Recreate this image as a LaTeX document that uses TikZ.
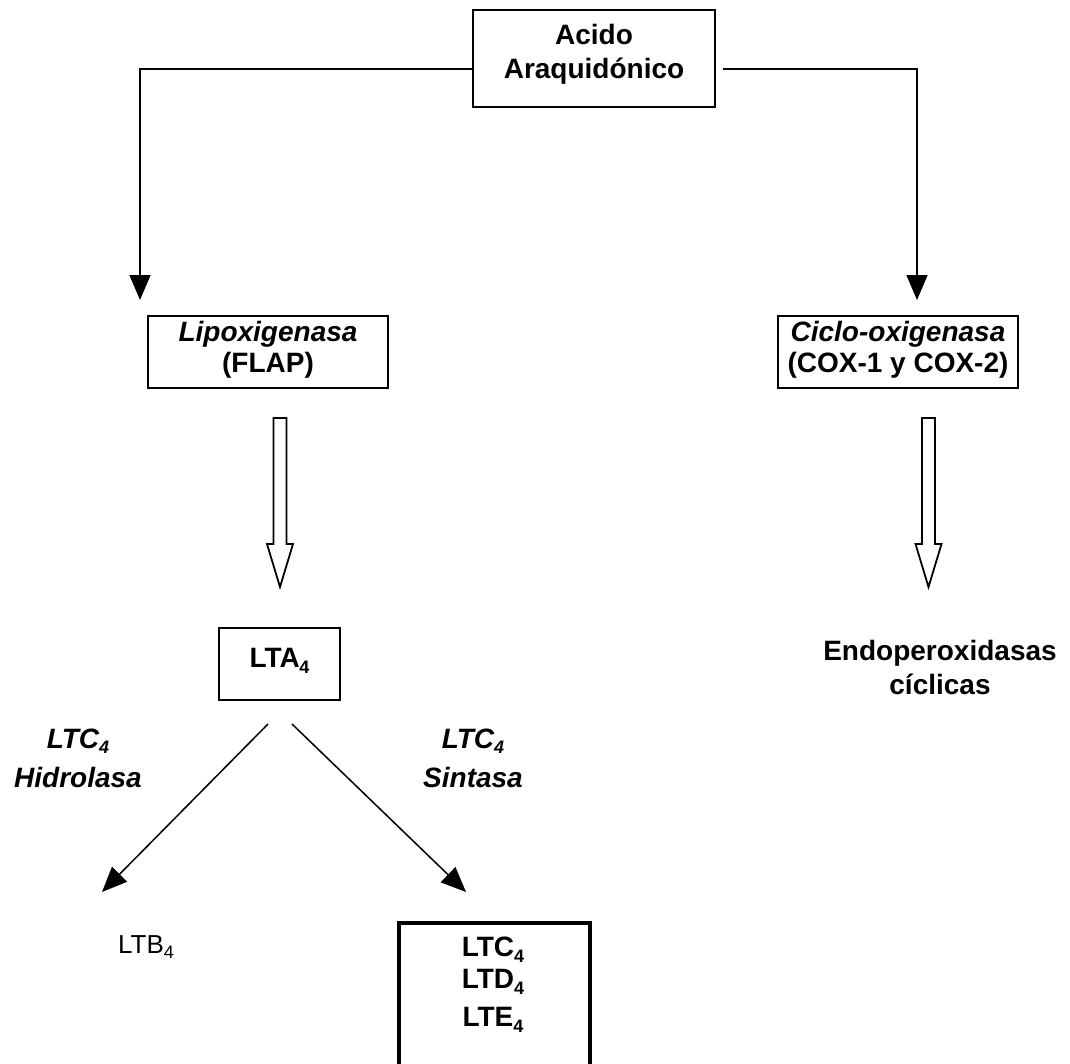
\documentclass[tikz,border=0pt]{standalone}
\usepackage{fontspec}
\setmainfont{Liberation Sans}
\usetikzlibrary{arrows.meta}
% lowered subscript digit in the current text font
\newcommand\lsub[1]{\raisebox{-0.2em}{\fontsize{18}{18}\selectfont #1}}

\begin{document}
\begin{tikzpicture}[x=1pt,y=-1pt,
  lbl/.style={font=\fontsize{28}{34}\selectfont\bfseries, align=center, inner sep=0pt},
  ilbl/.style={lbl, font=\fontsize{28}{34}\selectfont\bfseries\itshape},
  plain/.style={font=\fontsize{26}{30}\selectfont, inner sep=0pt},
  box/.style={draw, line width=2pt, inner sep=0pt},
  link/.style={line width=1.5pt, -{Triangle[length=25pt,width=21pt]}},
  hollow/.style={draw, line width=1.8pt, fill=white, line join=miter}]
\useasboundingbox (0,0) rectangle (1070,1063);
\clip (0,0) rectangle (1070,1063);

% top: arachidonic acid
\node[box, minimum width=242, minimum height=97] (acido) at (594,58) {};
\node[lbl] (acidoT) at (594,54) {Acido\\Araquidónico};

% the two enzyme boxes
\node[box, minimum width=240, minimum height=72] (lipo) at (268,352) {};
\node[lbl] (lipoT) at (268,350) {\itshape Lipoxigenasa\\[-3pt](FLAP)};
\node[box, minimum width=240, minimum height=72] (ciclo) at (898,352) {};
\node[lbl] (cicloT) at (898,350) {\itshape Ciclo-oxigenasa\\[-3pt](COX-1 y COX-2)};

% branch connectors from the top box
\coordinate (aL) at (473,69);
\coordinate (aR) at (723,69);
\coordinate (tipL) at (140,300);
\coordinate (tipR) at (917,300);
\draw[link] (aL) -| (tipL);
\draw[link] (aR) -| (tipR);

% hollow block arrows
\draw[hollow] (273.5,418) -- (286.5,418) -- (286.5,544) -- (293,544) -- (280,587)
  -- (267,544) -- (273.5,544) -- cycle;
\draw[hollow] (922,418) -- (935,418) -- (935,544) -- (941.5,544) -- (928.5,587)
  -- (915.5,544) -- (922,544) -- cycle;

% LTA4
\node[box, minimum width=121, minimum height=72] (lta) at (279.5,664) {};
\node[lbl] (ltaT) at (279.5,661) {LTA\kern-0.5pt\lsub{4}};

% cyclic endoperoxides
\node[lbl] (endo) at (940,667) {Endoperoxidasas\\cíclicas};

% enzyme labels
\node[ilbl] (hidro) at (78,758) {LTC\lsub{4}\\[5pt]Hidrolasa};
\node[ilbl] (sint) at (473,758) {LTC\lsub{4}\\[5pt]Sintasa};

% diagonal branches
\coordinate (dL0) at (268,724);
\coordinate (dL1) at (102,892);
\coordinate (dR0) at (292,724);
\coordinate (dR1) at (466,892);
\draw[link] (dL0) -- (dL1);
\draw[link] (dR0) -- (dR1);

% products
\node[plain, anchor=base] (ltb) at (146,953) {LTB\lsub{4}};
\draw[line width=4pt] (399,1080) |- (590,923) -- (590,1080);
\node[lbl] (ltc) at (493,985) {LTC\lsub{4}\\[-2pt]LTD\lsub{4}\\[4pt]LTE\lsub{4}};
\end{tikzpicture}
\end{document}
